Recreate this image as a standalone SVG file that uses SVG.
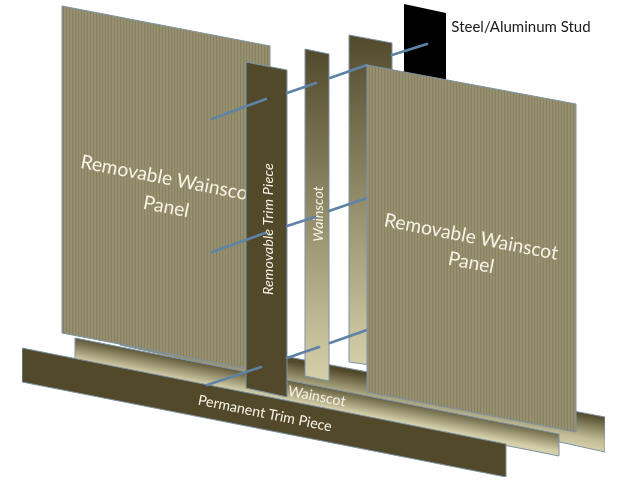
<svg xmlns="http://www.w3.org/2000/svg" width="640" height="480" viewBox="0 0 640 480">
<style>
.edge{stroke:#7d93a6;stroke-width:1;stroke-linejoin:round}
.dark{fill:#514a2c}
.panel{fill:url(#stripes)}
.rod{stroke:#5f83a6;stroke-width:2.6;stroke-linecap:round;fill:none}
text{font-family:Lato,"Liberation Sans",sans-serif;fill:#f6f3e6;text-anchor:middle}
.big{font-size:19.3px}
.mid{font-size:14.3px}
</style>
<defs>
<filter id="soft" x="0" y="0" width="100%" height="100%"><feGaussianBlur stdDeviation="0.4"/></filter>
<pattern id="stripes" patternUnits="userSpaceOnUse" width="3" height="10">
<rect width="3" height="10" fill="#96906f"/>
<rect width="1" height="10" fill="#878160"/>
</pattern>
<linearGradient id="gv" x1="0" y1="0" x2="0" y2="1">
<stop offset="0" stop-color="#514a2c"/>
<stop offset="1" stop-color="#d6d0aa"/>
</linearGradient>
<linearGradient id="gb1" gradientUnits="userSpaceOnUse" x1="75" y1="338" x2="71" y2="359">
<stop offset="0" stop-color="#5b5435"/>
<stop offset="1" stop-color="#d6d0aa"/>
</linearGradient>
<linearGradient id="gb2" gradientUnits="userSpaceOnUse" x1="605" y1="417" x2="599" y2="451">
<stop offset="0" stop-color="#514a2c"/>
<stop offset="0.7" stop-color="#c2bc95"/>
<stop offset="1" stop-color="#d6d0aa"/>
</linearGradient>
</defs>
<rect width="640" height="480" fill="#fff"/>
<g filter="url(#soft)">
<g id="stud"><polygon points="404,4 446,13 446,82 404,74" fill="#000"/>
<text x="521" y="32" style="fill:#1a1a1a;font-size:15px">Steel/Aluminum Stud</text></g>
<g id="wainscot-back-vertical"><polygon class="edge" points="349,35 392,43 392,368 349,362" fill="url(#gv)"/></g>
<g id="wainscot-back-horizontal"><polygon class="edge" points="120,325 605,417 605,452 120,345" fill="url(#gb2)"/></g>
<g id="wainscot-front-horizontal"><polygon class="edge" points="75,338 559,434 559,456 75,360" fill="url(#gb1)"/>
<text class="mid" transform="translate(316,401) rotate(11)">Wainscot</text></g>
<g id="permanent-trim"><polygon class="edge dark" points="22,348 506,444 506,477 22,382"/>
<text class="mid" transform="translate(264,418) rotate(11.5)">Permanent Trim Piece</text></g>
<g id="wainscot-vertical"><polygon class="edge" points="305,49 329,54 329,381 305,376" fill="url(#gv)"/>
<text class="mid" style="font-style:italic" transform="translate(323,214) rotate(-90)">Wainscot</text></g>
<g id="panel-left"><polygon class="edge panel" points="62,6 270,46 270,373 62,333"/>
<text class="big" transform="translate(163,184) rotate(11)">Removable Wainsco</text>
<text class="big" transform="translate(165,213) rotate(11)">Panel</text></g>
<g id="trim-vertical"><polygon class="edge dark" points="246,62 287,70 287,397 246,388"/>
<text class="mid" style="font-style:italic;letter-spacing:.2px" transform="translate(273,229) rotate(-90)">Removable Trim Piece</text></g>
<g id="connectors">
<path class="rod" d="M212,119L266,99M287,93L316,83M330,78L367,65M392,55L427,44"/>
<path class="rod" d="M212,252L265,233M287,226L315,217M329,211L367,198"/>
<path class="rod" d="M207,385L261,367M287,358L319,347M330,343L367,330"/>
</g>
<g id="panel-right"><polygon class="edge panel" points="367,65 576,104 576,432 367,392"/>
<text class="big" transform="translate(470,243) rotate(11)">Removable Wainscot</text>
<text class="big" transform="translate(470,269) rotate(11)">Panel</text></g>
</g>
</svg>
